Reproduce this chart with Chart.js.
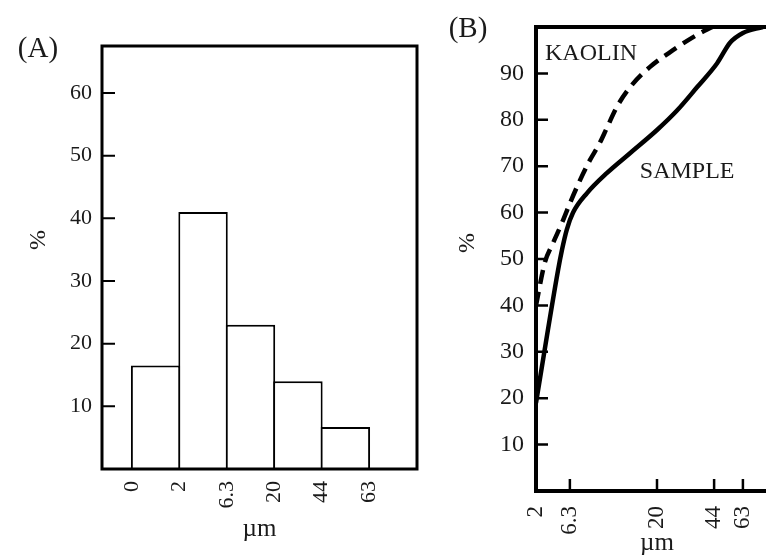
<!DOCTYPE html>
<html>
<head>
<meta charset="utf-8">
<script src="https://cdn.jsdelivr.net/npm/chart.js@4.4.1/dist/chart.umd.min.js"></script>
<style>
  html, body { margin: 0; padding: 0; background: #fff; overflow: hidden; width: 766px; height: 558px; }
  canvas { position: absolute; top: 0; }
  #histogram { left: 0; }
  #cumulative { left: 430px; }
</style>
</head>
<body>
<canvas id="histogram" width="430" height="558"></canvas>
<canvas id="cumulative" width="400" height="558"></canvas>
<script>
// (A) size fractions between sieve edges
const binEdges = ['0', '2', '6.3', '20', '44', '63'];
const binShares = [16.5, 41, 23, 14, 6.7];
const percentTicksA = [10, 20, 30, 40, 50, 60];

// (B) cumulative passing curves
const gradeTicks = [2, 6.3, 20, 44, 63];
const percentTicksB = [10, 20, 30, 40, 50, 60, 70, 80, 90];
const sampleSize = [2, 4.8, 5.3, 5.9, 6.8, 9.0, 12.1, 15.75, 20, 28.4, 36.8, 46, 54.5, 63, 76];
const samplePassing = [19, 47.6, 52, 56.3, 60, 64.2, 68.5, 72.8, 77.8, 82, 87, 92.2, 96.6, 98.7, 100];
const kaolinSize = [2, 3.1, 4.15, 5.3, 6.3, 7.9, 9.45, 11.0, 12.1, 13.7, 15.75, 18.9, 26.7, 36.8, 43.2];
const kaolinPassing = [40, 49.1, 53.4, 57.8, 62, 67, 71.3, 75, 78.2, 82.8, 87, 91.4, 95, 98.3, 100];

const SERIF = '"Liberation Serif", "Times New Roman", serif';
const INK = '#1a1a1a';

// piecewise axis: sieve sizes are not evenly spread along the x axis
class GradeScale extends Chart.LinearScale {
  static id = 'grade';
  static defaults = Chart.LinearScale.defaults;

  getPixelForValue(value) {
    const stops = this.options.stops;
    let i = 1;
    while (i < stops.length - 1 && value > stops[i][0]) i++;
    const [v0, f0] = stops[i - 1];
    const [v1, f1] = stops[i];
    const f = f0 + (value - v0) / (v1 - v0) * (f1 - f0);
    return this.left + f * this.width;
  }

  getValueForPixel(pixel) {
    const stops = this.options.stops;
    const f = (pixel - this.left) / this.width;
    let i = 1;
    while (i < stops.length - 1 && f > stops[i][1]) i++;
    const [v0, f0] = stops[i - 1];
    const [v1, f1] = stops[i];
    return v0 + (f - f0) / (f1 - f0) * (v1 - v0);
  }
}
Chart.register(GradeScale);

// box around the plot area, inward tick marks and free text
function framePlugin(style, texts) {
  return {
    id: 'frame',
    afterDatasetsDraw(chart) {
      const { ctx, chartArea: a, scales } = chart;
      ctx.save();
      ctx.strokeStyle = '#000';
      ctx.lineCap = 'butt';

      ctx.lineWidth = style.tickWidth;
      ctx.beginPath();
      scales.y.ticks.forEach(t => {
        const py = scales.y.getPixelForValue(t.value);
        ctx.moveTo(a.left, py);
        ctx.lineTo(a.left + style.tickLength, py);
      });
      if (style.xTicks) {
        scales.x.ticks.forEach(t => {
          const px = scales.x.getPixelForValue(t.value);
          ctx.moveTo(px, a.bottom);
          ctx.lineTo(px, a.bottom - style.tickLength);
        });
      }
      ctx.stroke();

      ctx.lineWidth = style.width;
      ctx.strokeRect(a.left, a.top, a.right - a.left, a.bottom - a.top);

      ctx.fillStyle = INK;
      texts.forEach(t => {
        ctx.font = t.size + 'px ' + SERIF;
        let px = t.px, py = t.py;
        if (t.at) {
          px = scales.x.getPixelForValue(t.at[0]);
          py = scales.y.getPixelForValue(t.at[1]);
        }
        ctx.save();
        ctx.translate(px, py);
        if (t.rotate) {
          ctx.rotate(-Math.PI / 2);
          ctx.textAlign = 'center';
          ctx.textBaseline = 'middle';
        } else {
          ctx.textAlign = t.align || 'center';
          ctx.textBaseline = 'alphabetic';
        }
        ctx.fillText(t.text, 0, 0);
        ctx.restore();
      });
      ctx.restore();
    }
  };
}

const quiet = { legend: { display: false }, tooltip: { enabled: false } };

new Chart(document.getElementById('histogram'), {
  type: 'bar',
  data: {
    datasets: [{
      data: binShares.map((v, i) => ({ x: i + 0.5, y: v })),
      backgroundColor: '#fff',
      borderColor: '#000',
      borderWidth: 2,
      borderSkipped: 'bottom',
      barPercentage: 1.042,
      categoryPercentage: 1
    }]
  },
  options: {
    responsive: false,
    animation: false,
    layout: { padding: { top: 46, right: 13, left: 0, bottom: 0 } },
    plugins: quiet,
    scales: {
      x: {
        type: 'linear',
        min: -0.63,
        max: 6.01,
        offset: false,
        grid: { display: false, drawTicks: false },
        border: { display: false },
        afterBuildTicks: s => { s.ticks = binEdges.map((_, i) => ({ value: i })); },
        afterFit: s => { s.height = 89; },
        ticks: {
          autoSkip: false, minRotation: 90, maxRotation: 90, padding: 12,
          color: INK, font: { family: SERIF, size: 22 },
          callback: v => binEdges[v]
        },
        title: {
          display: true, text: 'µm', color: INK,
          font: { family: SERIF, size: 25 }, padding: { top: 0, bottom: 14 }
        }
      },
      y: {
        min: 0,
        max: 67.5,
        grid: { display: false, drawTicks: false },
        border: { display: false },
        afterBuildTicks: s => { s.ticks = percentTicksA.map(v => ({ value: v })); },
        afterFit: s => { s.width = 102; },
        ticks: { padding: 10, color: INK, font: { family: SERIF, size: 22 } }
      }
    }
  },
  plugins: [framePlugin(
    { width: 3, tickWidth: 2, tickLength: 13 },
    [
      { text: '(A)', px: 38, py: 57, size: 29 },
      { text: '%', px: 39, py: 240, size: 24, rotate: true }
    ]
  )]
});

new Chart(document.getElementById('cumulative'), {
  type: 'line',
  data: {
    datasets: [
      {
        label: 'KAOLIN',
        data: kaolinSize.map((x, i) => ({ x, y: kaolinPassing[i] })),
        borderColor: '#000',
        borderWidth: 4.5,
        borderDash: [14, 8],
        borderCapStyle: 'butt',
        pointRadius: 0,
        cubicInterpolationMode: 'monotone',
        fill: false
      },
      {
        label: 'SAMPLE',
        data: sampleSize.map((x, i) => ({ x, y: samplePassing[i] })),
        borderColor: '#000',
        borderWidth: 4.5,
        borderJoinStyle: 'round',
        pointRadius: 0,
        cubicInterpolationMode: 'monotone',
        fill: false
      }
    ]
  },
  options: {
    responsive: false,
    animation: false,
    layout: { padding: { top: 27, right: 52, left: 0, bottom: 0 } },
    plugins: quiet,
    scales: {
      x: {
        type: 'grade',
        min: 2,
        max: 86,
        stops: [[2, 0], [6.3, 0.14], [20, 0.5], [44, 0.736], [63, 0.855], [86, 1]],
        offset: false,
        grid: { display: false, drawTicks: false },
        border: { display: false },
        afterBuildTicks: s => { s.ticks = gradeTicks.map(v => ({ value: v })); },
        afterFit: s => { s.height = 67; },
        ticks: {
          autoSkip: false, minRotation: 90, maxRotation: 90, padding: 15,
          color: INK, font: { family: SERIF, size: 23 },
          callback: v => String(v)
        },
        title: {
          display: true, text: 'µm', color: INK,
          font: { family: SERIF, size: 25 }, padding: { top: 0, bottom: 0 }
        }
      },
      y: {
        min: 0,
        max: 100,
        grid: { display: false, drawTicks: false },
        border: { display: false },
        afterBuildTicks: s => { s.ticks = percentTicksB.map(v => ({ value: v })); },
        afterFit: s => { s.width = 106; },
        ticks: { padding: 12, color: INK, font: { family: SERIF, size: 24 } }
      }
    }
  },
  plugins: [framePlugin(
    { width: 4, tickWidth: 2.5, tickLength: 12, xTicks: true },
    [
      { text: '(B)', px: 38, py: 37, size: 29 },
      { text: '%', px: 38, py: 243, size: 24, rotate: true },
      { text: 'KAOLIN', at: [3.14, 92.9], size: 24, align: 'left' },
      { text: 'SAMPLE', at: [17.3, 67.5], size: 24, align: 'left' }
    ]
  )]
});
</script>
</body>
</html>
